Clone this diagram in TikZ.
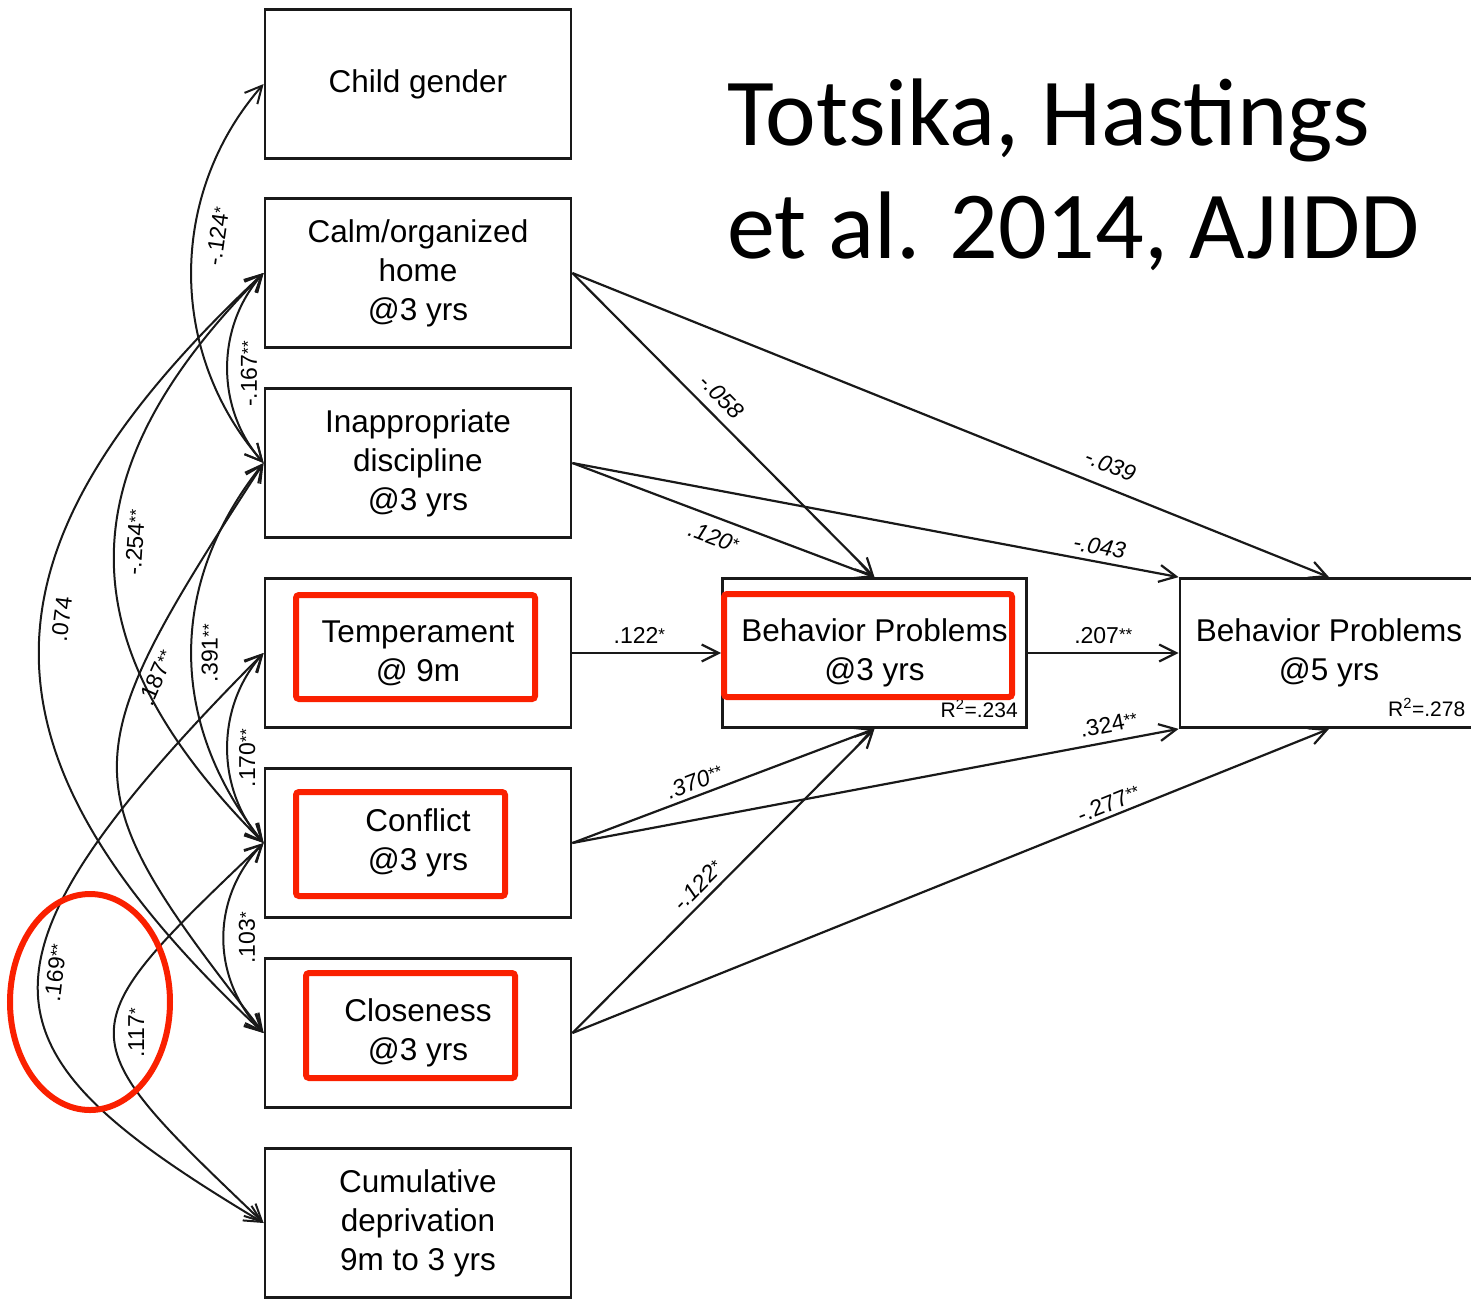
\documentclass[tikz,border=0pt]{standalone}
\usepackage{fontspec}
\setmainfont{Liberation Sans}
\newfontfamily\titlefont{Carlito}
\usetikzlibrary{arrows.meta,positioning}
\definecolor{ink}{RGB}{25,25,25}
\definecolor{markred}{RGB}{250,32,0}
% small raised significance stars
\newcommand\sigstar[1]{\raisebox{3pt}{\fontsize{17}{17}\selectfont #1}}

\begin{document}
\begin{tikzpicture}[x=1pt,y=1pt,
  >={Straight Barb[length=17pt,width=17pt]},
  var/.style={draw=ink, line width=2.8pt, fill=white, minimum width=306pt,
    minimum height=149pt, align=center, inner sep=0pt,
    font=\fontsize{31.5}{39}\selectfont},
  eff/.style={draw=ink, line width=2.2pt, ->},
  cov/.style={draw=ink, line width=2pt, <->},
  coef/.style={inner sep=2pt, font=\fontsize{23}{23}\selectfont},
  coefi/.style={coef, font=\fontsize{23}{23}\selectfont\itshape},
  rsq/.style={inner sep=0pt, font=\fontsize{21}{21}\selectfont},
  hl/.style={draw=markred, line width=6pt, rounded corners=3pt},
  heading/.style={anchor=base west, inner sep=0pt,
    font=\titlefont\fontsize{96}{113}\selectfont}]
\useasboundingbox[fill=white] (0,0) rectangle (1471,-1302);

% Title
\node[heading] (title1) at (727,-145) {Totsika, Hastings};
\node[heading] (title2) at (727,-258) {et al. 2014, AJIDD};

% Predictors (left column)
\node[var] (gender) at (418,-84) {Child gender};
\node[var] (calm) at (418,-273) {Calm/organized\\home\\@3 yrs};
\node[var] (disc) at (418,-463) {Inappropriate\\discipline\\@3 yrs};
\node[var] (temp) at (418,-653) {Temperament\\@ 9m};
\node[var] (conf) at (418,-843) {Conflict\\@3 yrs};
\node[var] (clos) at (418,-1033) {Closeness\\@3 yrs};
\node[var] (cumd) at (418,-1223) {Cumulative\\deprivation\\9m to 3 yrs};

% Outcomes
\node[var, minimum width=304pt] (bp3) at (874.5,-653) {Behavior Problems\\@3 yrs};
\node[var, minimum width=298pt] (bp5) at (1329,-653) {Behavior Problems\\@5 yrs};
\node[rsq, above left=11pt and 10pt of bp3.south east] (r3) {R\textsuperscript{2}=.234};
\node[rsq, above left=12pt and 14pt of bp5.south east] (r5) {R\textsuperscript{2}=.278};

% Paths to the outcomes
\draw[eff] (calm.east) to node[coefi, pos=.45, sloped, above=8pt] {-.058} (bp3.north);
\draw[eff] (calm.east) to node[coefi, pos=.70, sloped, above=11pt] {-.039} (bp5.north);
\draw[eff] (disc.east) to node[coefi, pos=.49, sloped, below=8pt] {.120\sigstar{*}} (bp3.north);
\draw[eff] (disc.east) to node[coefi, pos=.865, sloped, above=4pt] {-.043} (bp5.north west);
\draw[eff] (temp.east) to node[coef, pos=.45, above=6pt] {.122\sigstar{*}} (bp3.west);
\draw[eff] (bp3.east) to node[coef, pos=.5, above=6pt] {.207\sigstar{**}} (bp5.west);
\draw[eff] (conf.east) to node[coefi, pos=.42, sloped, above=3pt] {.370\sigstar{**}} (bp3.south);
\draw[eff] (conf.east) to node[coef, pos=.89, sloped, above=6pt] {.324\sigstar{**}} (bp5.south west);
\draw[eff] (clos.east) to node[coefi, pos=.45, sloped, above=4pt] {-.122\sigstar{*}} (bp3.south);
\draw[eff] (clos.east) to node[coef, pos=.715, sloped, above=2pt] {-.277\sigstar{**}} (bp5.south);

% Covariances among the predictors (drawn bottom to top)
\draw[cov] (disc.west) .. controls +(-96,110) and +(-96,-110) .. (gender.west)
  node[coef, pos=.6, sloped, below=12pt] {-.124\sigstar{*}};
\draw[cov] (disc.west) .. controls +(-48,54) and +(-48,-54) .. (calm.west)
  node[coef, pos=.47, rotate=90, anchor=north, yshift=-10pt] {-.167\sigstar{**}};
\draw[cov] (clos.west) .. controls +(-299,280) and +(-299,-280) .. (calm.west)
  node[coef, pos=.55, sloped, below=9pt] {.074};
\draw[cov] (conf.west) .. controls +(-199,200) and +(-199,-200) .. (calm.west)
  node[coef, pos=.53, sloped, below=9pt] {-.254\sigstar{**}};
\draw[cov] (clos.west) .. controls +(-195,250) and +(-195,-300) .. (disc.west)
  node[coef, pos=.7, sloped, below=6pt] {.187\sigstar{**}};
\draw[cov] (conf.west) .. controls +(-96,120) and +(-96,-120) .. (disc.west)
  node[coef, pos=.5, sloped, below=7pt] {.391\sigstar{**}};
\draw[cov] (conf.west) .. controls +(-48,54) and +(-48,-54) .. (temp.west)
  node[coef, pos=.45, rotate=90, anchor=north, yshift=-8pt] {.170\sigstar{**}};
\draw[cov] (clos.west) .. controls +(-53,55) and +(-53,-55) .. (conf.west)
  node[coef, pos=.5, rotate=90, anchor=north, yshift=-12pt] {.103\sigstar{*}};
\draw[cov] (cumd.west) .. controls +(-280,168) and +(-320,-322) .. (temp.west)
  node[coef, pos=.55, sloped, below=5pt] {.169\sigstar{**}};
\draw[cov] (cumd.west) .. controls +(-199,190) and +(-199,-190) .. (conf.west)
  node[coef, pos=.5, sloped, below=11pt] {.117\sigstar{*}};

% Red highlights
\draw[hl] (296,-595) rectangle (535,-699);
\draw[hl] (296,-792) rectangle (505,-896);
\draw[hl] (306,-973) rectangle (515,-1078);
\draw[hl] (724,-594) rectangle (1012,-697);
\draw[draw=markred, line width=6pt] (90,-1002) ellipse (80 and 108);

\end{tikzpicture}
\end{document}
